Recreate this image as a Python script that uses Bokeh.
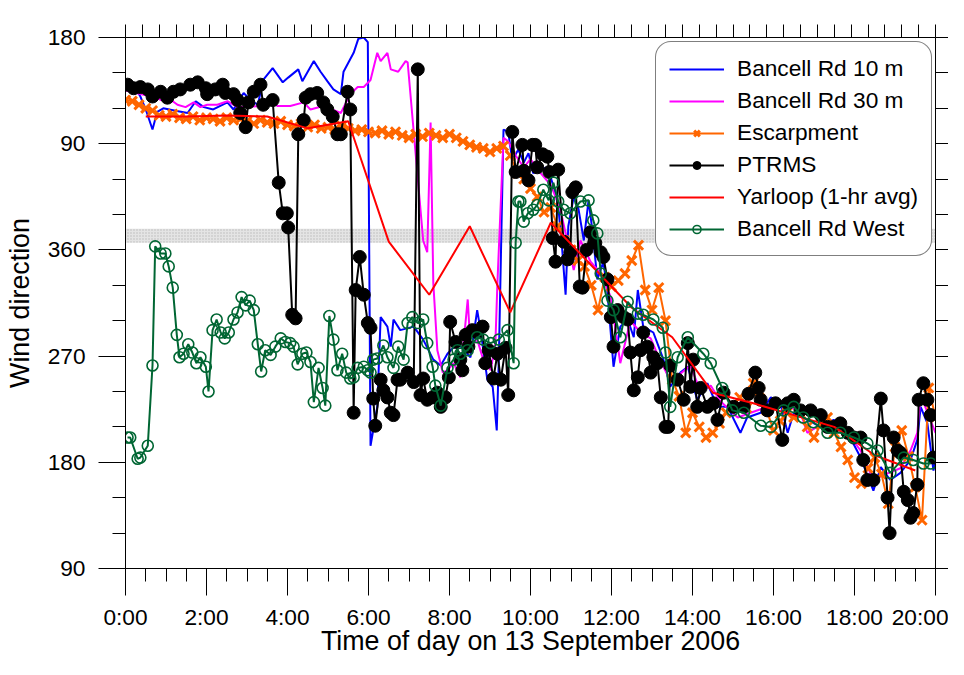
import numpy as np
from bokeh.plotting import figure
from bokeh.models import (LinearAxis, FixedTicker, CustomJSTickFormatter, BoxAnnotation,
                          Legend, LegendItem)
from bokeh.embed import file_html
from bokeh.resources import INLINE

FONT = "Liberation Sans"

# Wind direction is drawn on an unwrapped axis: values above 360 are (direction + 360).
# Times are minutes after midnight, 13 September 2006.

bancell10_min = [0, 12, 22, 30, 40, 47, 56, 74, 92, 104, 116, 130, 151, 160, 175, 185, 196, 204, 218, 233,
                 241, 256, 262, 279, 289, 299, 308, 319, 323, 338, 345, 353, 359, 363, 373, 378, 388, 393, 397, 407,
                 427, 441, 456, 467, 477, 492, 511, 521, 526, 536, 544, 550, 553, 560, 567, 573, 582, 590, 597, 604,
                 615, 625, 634, 641, 647, 652, 656, 664, 671, 679, 686, 692, 699, 708, 714, 723, 733, 744, 753, 759,
                 767, 782, 797, 807, 822, 833, 847, 862, 877, 892, 911, 921, 941, 956, 970, 981, 990, 1010, 1030, 1049,
                 1070, 1089, 1108, 1119, 1133, 1148, 1163, 1173, 1178, 1188, 1197, 1200]
bancell10_dir = [501, 500, 490, 479, 462, 477, 480, 478, 476, 486, 481, 479, 485, 479, 493, 487, 483, 504, 514, 502,
                 506, 513, 503, 520, 511, 503, 496, 492, 511, 527, 539, 540, 536, 194, 227, 303, 295, 278, 301, 292,
                 295, 284, 267, 262, 272, 281, 269, 309, 292, 250, 244, 207, 266, 462, 460, 436, 445, 434, 442, 425,
                 428, 430, 414, 398, 360, 322, 380, 405, 395, 368, 402, 375, 335, 350, 324, 261, 295, 301, 286, 326,
                 295, 290, 267, 244, 256, 261, 233, 247, 227, 227, 205, 218, 222, 235, 230, 205, 222, 216, 210, 216,
                 205, 184, 156, 176, 165, 171, 182, 199, 227, 213, 173, 180]

bancell30_min = [0, 22, 47, 52, 70, 77, 89, 101, 111, 121, 136, 151, 166, 181, 196, 215, 225, 244, 264, 274,
                 293, 319, 333, 344, 353, 363, 373, 378, 388, 393, 404, 415, 418, 441, 447, 452, 456, 462, 470, 477,
                 486, 496, 507, 511, 521, 530, 541, 548, 551, 560, 567, 578, 590, 600, 615, 630, 644, 664, 674, 689,
                 704, 719, 733, 748, 763, 778, 793, 807, 822, 837, 852, 867, 881, 907, 926, 941, 970, 1000, 1010, 1030,
                 1059, 1089, 1108, 1126, 1148, 1163, 1173, 1178, 1193, 1200]
bancell30_dir = [495, 492, 489, 487, 486, 483, 481, 485, 481, 483, 483, 486, 481, 481, 482, 485, 482, 482, 485, 479,
                 482, 476, 492, 498, 498, 504, 527, 520, 527, 513, 511, 520, 519, 368, 358, 468, 332, 275, 256, 258,
                 264, 252, 318, 278, 284, 267, 258, 281, 332, 455, 452, 440, 430, 437, 425, 415, 395, 343, 368, 350,
                 340, 320, 264, 300, 290, 285, 265, 250, 255, 262, 240, 245, 232, 218, 222, 225, 232, 222, 205, 212,
                 213, 190, 165, 170, 175, 190, 205, 237, 215, 205]

escarpment_min = list(range(0, 1201, 10))
escarpment_dir = [487, 486, 483, 480, 478, 474,
                  473, 475, 472, 471, 473, 470,
                  472, 471, 469, 472, 470, 471,
                  469, 467, 470, 468, 467, 469,
                  466, 465, 467, 464, 466, 463,
                  464, 462, 465, 463, 461, 462,
                  460, 459, 461, 458, 460, 457,
                  455, 458, 456, 459, 457, 455,
                  458, 455, 452, 449, 447, 446,
                  443, 446, 448, 440, 425, 420,
                  412, 405, 392, 396, 380, 368,
                  360, 351, 346, 330, 309, 337,
                  329, 334, 340, 351, 364, 326,
                  309, 328, 300, 250, 236, 205,
                  222, 210, 201, 205, 213, 222,
                  227, 235, 226, 247, 240, 224,
                  207, 215, 222, 218, 221, 210,
                  201, 212, 218, 205, 193, 182,
                  167, 162, 175, 184, 170, 145,
                  193, 207, 185, 159, 131, 243,
                  218]

ptrms_min = [3, 12, 22, 33, 40, 52, 62, 71, 81, 96, 107, 119, 121, 133, 144, 148, 160, 166, 170, 178,
             182, 190, 200, 204, 218, 227, 233, 239, 241, 247, 252, 256, 264, 267, 274, 284, 293, 299, 307, 314,
             319, 329, 333, 338, 341, 347, 353, 359, 363, 367, 370, 378, 382, 388, 393, 397, 403, 407, 418, 427,
             433, 437, 441, 447, 455, 462, 467, 474, 479, 481, 489, 496, 499, 504, 508, 514, 521, 529, 533, 538,
             545, 551, 556, 563, 567, 573, 578, 588, 590, 597, 603, 607, 610, 618, 625, 628, 633, 637, 641, 649,
             655, 659, 662, 667, 673, 677, 683, 689, 696, 704, 708, 714, 719, 723, 729, 738, 744, 748, 753, 759,
             763, 767, 773, 778, 782, 788, 793, 800, 804, 807, 818, 827, 833, 837, 841, 847, 852, 862, 871, 877,
             886, 901, 916, 923, 933, 938, 941, 951, 963, 973, 981, 990, 1000, 1015, 1030, 1040, 1049, 1059, 1070, 1079,
             1089, 1093, 1099, 1108, 1119, 1123, 1129, 1132, 1138, 1144, 1148, 1153, 1159, 1163, 1167, 1173, 1175, 1182, 1188, 1193,
             1197]
ptrms_dir = [500, 497, 498, 496, 490, 494, 489, 494, 496, 500, 502, 497, 492, 496, 500, 493, 492, 487, 476, 464,
             485, 494, 500, 483, 487, 417, 391, 391, 379, 305, 302, 458, 470, 489, 492, 493, 485, 479, 473, 458,
             458, 494, 479, 222, 326, 354, 322, 298, 294, 234, 211, 250, 241, 235, 222, 220, 250, 250, 256, 248,
             513, 237, 251, 233, 235, 239, 227, 235, 252, 299, 282, 267, 258, 288, 278, 292, 290, 295, 264, 275,
             251, 272, 250, 277, 237, 460, 426, 449, 427, 419, 449, 449, 430, 441, 439, 426, 370, 350, 428, 367,
             352, 358, 409, 413, 329, 328, 360, 375, 366, 358, 354, 335, 303, 278, 309, 303, 301, 273, 241, 252,
             275, 290, 278, 256, 269, 264, 235, 210, 210, 262, 250, 233, 281, 244, 267, 227, 243, 227, 230, 216,
             239, 227, 227, 238, 256, 243, 233, 224, 230, 199, 230, 233, 224, 224, 220, 210, 210, 213, 205, 201,
             201, 182, 165, 165, 234, 207, 150, 120, 201, 190, 188, 155, 148, 133, 137, 161, 233, 247, 233, 220,
             184]

yarloop_min = [30, 90, 150, 210, 270, 330, 390, 450, 510, 570, 630, 690, 750, 810, 870, 930, 990, 1050, 1110, 1170]
yarloop_dir = [473, 473, 474, 473, 463, 469, 367, 322, 380, 307, 383, 347, 311, 286, 239, 230, 220, 210, 186, 173]

west_min = [3, 7, 18, 22, 33, 40, 44, 52, 59, 64, 70, 76, 80, 86, 93, 99, 105, 111, 119, 123,
            129, 135, 141, 147, 153, 160, 166, 172, 178, 184, 190, 196, 201, 207, 215, 222, 230, 237, 244, 249,
            255, 262, 268, 274, 279, 286, 292, 296, 302, 308, 314, 321, 327, 333, 338, 344, 353, 359, 363, 367,
            373, 382, 388, 397, 404, 412, 418, 425, 433, 441, 447, 455, 459, 467, 477, 486, 492, 496, 507, 521,
            530, 541, 553, 566, 575, 578, 582, 585, 590, 596, 604, 610, 619, 627, 634, 641, 649, 659, 674, 686,
            693, 699, 704, 714, 723, 733, 744, 759, 767, 782, 796, 800, 807, 818, 833, 856, 867, 884, 899, 916,
            941, 956, 975, 990, 1004, 1019, 1040, 1059, 1079, 1099, 1114, 1133, 1153, 1167, 1182, 1193]
west_dir = [201, 201, 183, 184, 194, 262, 363, 357, 357, 346, 328, 288, 269, 272, 280, 273, 264, 269, 261, 240,
            292, 301, 290, 285, 290, 301, 307, 320, 313, 317, 309, 280, 257, 275, 271, 278, 285, 282, 281, 278,
            263, 272, 273, 265, 231, 260, 243, 228, 304, 284, 258, 272, 256, 251, 252, 260, 261, 258, 256, 267,
            268, 279, 269, 260, 278, 267, 298, 303, 298, 301, 281, 261, 245, 228, 260, 267, 275, 272, 275, 286,
            284, 281, 284, 292, 264, 366, 401, 401, 384, 391, 394, 398, 411, 402, 417, 401, 394, 391, 401, 402,
            385, 374, 340, 317, 309, 286, 316, 306, 305, 301, 294, 273, 227, 269, 286, 272, 264, 243, 224, 222,
            211, 210, 224, 227, 218, 214, 205, 205, 201, 196, 190, 171, 184, 182, 179, 179]

BAND_LOW, BAND_HIGH = 366, 378

y_major = [90, 180, 270, 360, 450, 540]
x_major = list(range(0, 21, 2))

X_TITLE = "Time of day on 13 September 2006"
Y_TITLE = "Wind direction"

C_BLUE, C_MAG, C_ORANGE, C_BLACK, C_RED, C_GREEN = "#0000ff", "#ff00ff", "#ff6600", "#000000", "#ff0000", "#006633"
TICK_FS, LEG_FS, TITLE_FS = "22.7px", "22.7px", "26.8px"


def hrs(mins):
    return [m / 60.0 for m in mins]


p = figure(width=948, height=659, x_range=(0, 20), y_range=(90, 540),
           output_backend="svg", toolbar_location=None,
           min_border_left=125, min_border_right=13, min_border_top=37, min_border_bottom=91)
p.outline_line_color = None
p.xgrid.visible = False
p.ygrid.visible = False
p.background_fill_color = "white"
p.border_fill_color = "white"

band = BoxAnnotation(bottom=BAND_LOW, top=BAND_HIGH, fill_color="#e4e4e4", fill_alpha=1.0,
                     hatch_pattern="dot", hatch_color="#b8b8b8", hatch_scale=3, hatch_weight=1,
                     line_color=None, level="underlay")
p.add_layout(band)

r_blue = p.line(hrs(bancell10_min), bancell10_dir, line_color=C_BLUE, line_width=2)
r_mag = p.line(hrs(bancell30_min), bancell30_dir, line_color=C_MAG, line_width=2)
r_esc_l = p.line(hrs(escarpment_min), escarpment_dir, line_color=C_ORANGE, line_width=2)
r_esc_m = p.scatter(hrs(escarpment_min), escarpment_dir, marker="x", size=13, line_color=C_ORANGE, line_width=3)
r_pt_l = p.line(hrs(ptrms_min), ptrms_dir, line_color=C_BLACK, line_width=2)
r_pt_m = p.scatter(hrs(ptrms_min), ptrms_dir, marker="circle", size=13, fill_color=C_BLACK, line_color=C_BLACK)
r_red = p.line(hrs(yarloop_min), yarloop_dir, line_color=C_RED, line_width=2)
r_gr_l = p.line(hrs(west_min), west_dir, line_color=C_GREEN, line_width=2)
r_gr_m = p.scatter(hrs(west_min), west_dir, marker="circle", size=11, fill_color="white", fill_alpha=0.0,
                   line_color=C_GREEN, line_width=1.6)


def style_axis(ax):
    ax.axis_line_color = "black"
    ax.axis_line_width = 1
    ax.major_tick_line_color = "black"
    ax.minor_tick_line_color = "black"
    ax.major_tick_in = 0
    ax.minor_tick_in = 0
    ax.major_label_text_font = FONT
    ax.major_label_text_font_size = TICK_FS
    ax.major_label_text_color = "black"
    ax.axis_label_text_font = FONT
    ax.axis_label_text_font_size = TITLE_FS
    ax.axis_label_text_font_style = "normal"
    ax.axis_label_text_color = "black"


xa = p.xaxis[0]
style_axis(xa)
xa.ticker = FixedTicker(ticks=x_major, minor_ticks=list(np.arange(0, 20.01, 0.5)))
xa.formatter = CustomJSTickFormatter(code='return Math.round(tick) + ":00";')
xa.major_tick_out = 27
xa.minor_tick_out = 13
xa.major_label_standoff = 8
xa.axis_label = X_TITLE
xa.axis_label_standoff = -7

ya = p.yaxis[0]
style_axis(ya)
ya.ticker = FixedTicker(ticks=y_major, minor_ticks=list(range(90, 541, 30)))
ya.formatter = CustomJSTickFormatter(code='return String(tick > 360 ? tick - 360 : tick);')
ya.major_tick_out = 27
ya.minor_tick_out = 13
ya.major_label_standoff = 13
ya.axis_label = Y_TITLE
ya.axis_label_standoff = 10


def tick_only_axis(ticks):
    ax = LinearAxis(ticker=FixedTicker(ticks=ticks), formatter=CustomJSTickFormatter(code='return "";'))
    style_axis(ax)
    ax.major_tick_out = 13
    ax.minor_tick_out = 0
    ax.major_label_text_font_size = "0px"
    ax.major_label_standoff = 0
    ax.axis_label_standoff = 0
    return ax


p.add_layout(tick_only_axis(list(np.arange(0, 20.001, 25 / 60.0))), "above")
p.add_layout(tick_only_axis(list(range(90, 541, 30))), "right")

items = [
    LegendItem(label="Bancell Rd 10 m", renderers=[r_blue]),
    LegendItem(label="Bancell Rd 30 m", renderers=[r_mag]),
    LegendItem(label="Escarpment", renderers=[r_esc_l, r_esc_m]),
    LegendItem(label="PTRMS", renderers=[r_pt_l, r_pt_m]),
    LegendItem(label="Yarloop (1-hr avg)", renderers=[r_red]),
    LegendItem(label="Bancell Rd West", renderers=[r_gr_l, r_gr_m]),
]
leg_kw = dict(items=items, location=(530, 312), orientation="vertical",
              label_text_font=FONT, label_text_font_size=LEG_FS, label_text_color="black",
              glyph_width=55, glyph_height=20, label_standoff=13, spacing=5, padding=13, margin=0,
              border_line_color="black", border_line_width=1,
              background_fill_color="white", background_fill_alpha=1.0)
if "border_radius" in Legend.properties():
    leg_kw["border_radius"] = 16
legend = Legend(**leg_kw)
p.add_layout(legend)

open("out.html", "w").write(file_html(p, INLINE))
